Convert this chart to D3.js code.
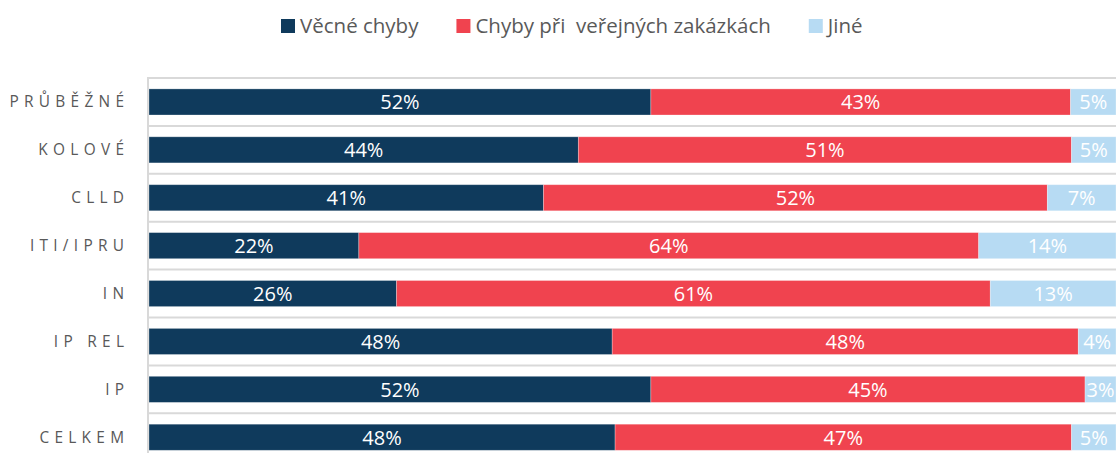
<!DOCTYPE html>
<html>
<head>
<meta charset="utf-8">
<script src="https://cdn.jsdelivr.net/npm/d3@7"></script>
<style>
  body { margin: 0; background: #fff; }
  svg { display: block; font-family: "Open Sans", "Noto Sans", sans-serif; }
</style>
</head>
<body>
<script>
(function(d3) {
    'use strict';

    var categories = ['PRŮBĚŽNÉ', 'KOLOVÉ', 'CLLD', 'ITI/IPRU', 'IN', 'IP REL', 'IP', 'CELKEM'];
    var seriesNames = ['Věcné chyby', 'Chyby při  veřejných zakázkách', 'Jiné'];
    var vecne = [51.9, 44.4, 40.8, 21.7, 25.6, 47.9, 51.9, 48.2];
    var zakazky = [43.4, 51.0, 52.1, 64.1, 61.4, 48.2, 44.9, 47.2];
    var jine = [4.7, 4.6, 7.1, 14.2, 13.0, 3.9, 3.2, 4.6];
    var colors = ['#0f3a5c', '#f0434f', '#b7dbf3'];

    var settings = {
        width: 1116,
        height: 453,
        plotLeft: 149,
        plotRight: 1116,
        plotTop: 78,
        step: 47.9,
        labelRight: 124,
        legendY: 26,
        legendLeft: 281
    };

    var svg = d3.select('body').append('svg')
        .attr('width', settings.width)
        .attr('height', settings.height);

    var x = d3.scaleLinear()
        .domain([0, 100])
        .range([settings.plotLeft, settings.plotRight]);

    var y = d3.scaleBand()
        .domain(categories)
        .range([settings.plotTop, settings.plotTop + settings.step * categories.length])
        .paddingInner(0.455)
        .paddingOuter(0.2275);

    // horizontal gridlines between categories
    var gridYs = d3.range(categories.length + 1).map(function(i) {
        return settings.plotTop + i * y.step();
    });
    svg.append('g').selectAll('line')
        .data(gridYs)
        .enter().append('line')
        .attr('x1', settings.plotLeft - 1)
        .attr('x2', settings.plotRight)
        .attr('y1', function(d) { return d; })
        .attr('y2', function(d) { return d; })
        .attr('stroke', '#d9d9d9')
        .attr('stroke-width', 2);

    svg.append('line')
        .attr('x1', settings.plotLeft - 1)
        .attr('x2', settings.plotLeft - 1)
        .attr('y1', settings.plotTop - 1)
        .attr('y2', gridYs[gridYs.length - 1])
        .attr('stroke', '#d9d9d9')
        .attr('stroke-width', 2);

    var rows = categories.map(function(c, i) {
        return { cat: c, values: [vecne[i], zakazky[i], jine[i]] };
    });

    var stack = d3.stack().keys([0, 1, 2]).value(function(d, k) { return d.values[k]; });
    var layers = stack(rows);

    var layer = svg.append('g').selectAll('g')
        .data(layers)
        .enter().append('g')
        .attr('fill', function(d, i) { return colors[i]; });

    layer.selectAll('rect')
        .data(function(d) { return d; })
        .enter().append('rect')
        .attr('x', function(d) { return x(d[0]); })
        .attr('width', function(d) { return x(d[1]) - x(d[0]); })
        .attr('y', function(d) { return y(d.data.cat); })
        .attr('height', y.bandwidth())
        .attr('stroke', '#ffffff')
        .attr('stroke-opacity', 0.35)
        .attr('stroke-width', 0.8);

    layer.selectAll('text')
        .data(function(d) { return d; })
        .enter().append('text')
        .attr('x', function(d) { return (x(d[0]) + x(d[1])) / 2; })
        .attr('y', function(d) { return y(d.data.cat) + y.bandwidth() / 2 + 7.3; })
        .attr('text-anchor', 'middle')
        .attr('fill', '#ffffff')
        .attr('font-size', 20)
        .text(function(d) { return Math.round(d[1] - d[0]) + '%'; });

    // category labels (spaced capitals)
    var spacing = 5.3;
    svg.append('g').selectAll('text')
        .data(categories)
        .enter().append('text')
        .attr('x', settings.labelRight + spacing)
        .attr('y', function(d) { return y(d) + y.bandwidth() / 2 + 5.5; })
        .attr('text-anchor', 'end')
        .attr('fill', '#595959')
        .attr('font-size', 15.4)
        .attr('letter-spacing', spacing)
        .text(function(d) { return d; });

    // legend
    var legend = svg.append('g');
    var items = legend.selectAll('g')
        .data(seriesNames)
        .enter().append('g');
    items.append('rect')
        .attr('width', 14)
        .attr('height', 14)
        .attr('y', settings.legendY - 7)
        .attr('fill', function(d, i) { return colors[i]; });
    items.append('text')
        .attr('x', 19)
        .attr('y', settings.legendY + 6.7)
        .attr('fill', '#595959')
        .attr('font-size', 20.5)
        .attr('xml:space', 'preserve')
        .style('white-space', 'pre')
        .text(function(d) { return d; });

    var gap = 38;
    var widths = [];
    items.each(function() {
        widths.push(19 + d3.select(this).select('text').node().getComputedTextLength());
    });
    var cx = settings.legendLeft;
    items.attr('transform', function(d, i) {
        var t = 'translate(' + cx + ',0)';
        cx += widths[i] + gap;
        return t;
    });

})(window.d3);
</script>
</body>
</html>
